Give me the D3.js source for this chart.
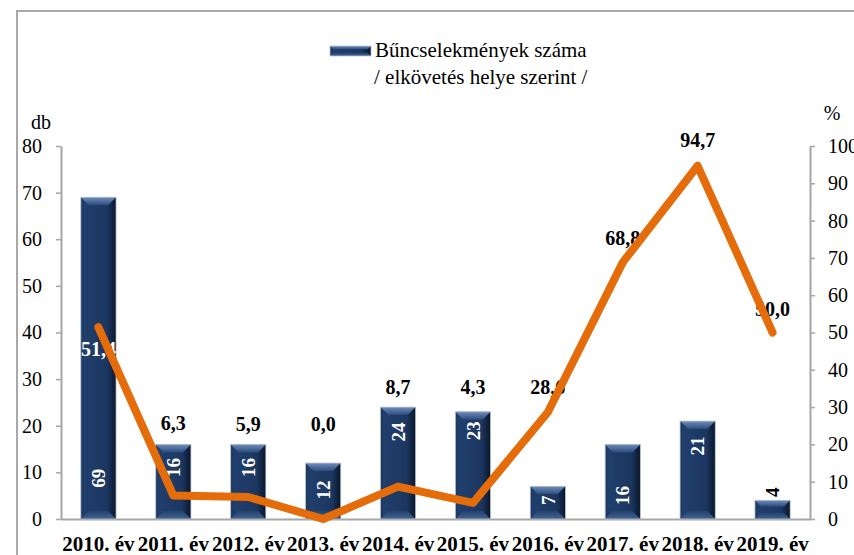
<!DOCTYPE html>
<html>
<head>
<meta charset="utf-8">
<script src="https://cdn.jsdelivr.net/npm/d3@7"></script>
<style>
  body { margin: 0; background: #fff; }
  #chart { width: 854px; height: 555px; }
  svg text { font-family: "Liberation Serif", "Times New Roman", "DejaVu Serif", serif; }
</style>
</head>
<body>
<div id="chart"></div>
<script>
//////////////  Data  //////////////
const categories = ["2010. év", "2011. év", "2012. év", "2013. év", "2014. év",
  "2015. év", "2016. év", "2017. év", "2018. év", "2019. év"];
const crimeCounts = [69, 16, 16, 12, 24, 23, 7, 16, 21, 4];          // db
const sharePct = [51.4, 6.3, 5.9, 0.0, 8.7, 4.3, 28.6, 68.8, 94.7, 50.0]; // %
const leftTicks = [0, 10, 20, 30, 40, 50, 60, 70, 80];
const rightTicks = [0, 10, 20, 30, 40, 50, 60, 70, 80, 90, 100];
const legendLines = ["Bűncselekmények száma", "/ elkövetés helye szerint /"];

// label nudges (px), the labels were moved by hand in the original
const barLabelDy = [281, 23, 23, 27, 25, 19, 14, 51, 25, -8];
const lineLabelDy = [22, -73, -73, -95, -100, -116, -25, -24, -26, -24];

//////////////  Init  //////////////
const width = 854, height = 555;
const margin = { top: 146, right: 44, bottom: 36, left: 61 };
const serif = '"Liberation Serif", "Times New Roman", "DejaVu Serif", serif';

const svg = d3.select("#chart").append("svg")
  .attr("width", width).attr("height", height)
  .attr("font-family", serif);

const fmt = (v) => d3.format(".1f")(v).replace(".", ",");

// frame
svg.append("path")
  .attr("d", `M17,${height + 5}V11H${width + 5}`)
  .attr("fill", "none").attr("stroke", "#a9a9a9").attr("stroke-width", 2);

// scales
const x = d3.scaleBand().domain(categories)
  .range([margin.left, width - margin.right]).paddingInner(0.53).paddingOuter(0.265);
const xc = d3.scaleBand().domain(categories).range([margin.left, width - margin.right]);
const yLeft = d3.scaleLinear().domain([0, 80]).range([height - margin.bottom, margin.top]);
const yRight = d3.scaleLinear().domain([0, 100]).range([height - margin.bottom, margin.top]);

// gradients
const defs = svg.append("defs");
const side = defs.append("linearGradient").attr("id", "barSide");
side.append("stop").attr("offset", "0%").attr("stop-color", "#1d3962");
side.append("stop").attr("offset", "12%").attr("stop-color", "#213f6c");
side.append("stop").attr("offset", "75%").attr("stop-color", "#1b3660");
side.append("stop").attr("offset", "100%").attr("stop-color", "#0a1629");
const topG = defs.append("linearGradient").attr("id", "barTop")
  .attr("x1", 0).attr("y1", 0).attr("x2", 0).attr("y2", 1);
topG.append("stop").attr("offset", "0%").attr("stop-color", "#6d8dbd");
topG.append("stop").attr("offset", "100%").attr("stop-color", "#2c4b7a");
const botG = defs.append("linearGradient").attr("id", "barBot")
  .attr("x1", 0).attr("y1", 0).attr("x2", 0).attr("y2", 1);
botG.append("stop").attr("offset", "0%").attr("stop-color", "#24426f");
botG.append("stop").attr("offset", "100%").attr("stop-color", "#41618f");

function bevelBar(g, bx, by, bw, bh) {
  const bev = Math.min(8, bh / 3);
  g.append("rect").attr("x", bx).attr("y", by).attr("width", bw).attr("height", bh)
    .attr("fill", "url(#barSide)");
  g.append("polygon")
    .attr("points", [[bx, by], [bx + bw, by], [bx + bw - bev, by + bev], [bx + bev, by + bev]].join(" "))
    .attr("fill", "url(#barTop)");
  g.append("polygon")
    .attr("points", [[bx, by + bh], [bx + bw, by + bh], [bx + bw - bev, by + bh - bev], [bx + bev, by + bh - bev]].join(" "))
    .attr("fill", "url(#barBot)");
  g.append("rect").attr("x", bx).attr("y", by).attr("width", bw).attr("height", bh)
    .attr("fill", "none").attr("stroke", "#b9c3d3").attr("stroke-width", 0.8);
}

//////////////  Axes  //////////////
const axisColor = "#a6a6a6";

const gLeft = svg.append("g").attr("transform", `translate(${margin.left},0)`)
  .call(d3.axisLeft(yLeft).tickValues(leftTicks).tickSize(5).tickSizeOuter(0).tickPadding(14));
const gRight = svg.append("g").attr("transform", `translate(${width - margin.right},0)`)
  .call(d3.axisRight(yRight).tickValues(rightTicks).tickSize(5).tickSizeOuter(0).tickPadding(13));
const gBottom = svg.append("g").attr("transform", `translate(0,${height - margin.bottom})`)
  .call(d3.axisBottom(xc).tickSize(0).tickSizeOuter(0));

[gLeft, gRight, gBottom].forEach((g) => {
  g.attr("font-family", serif);
  g.select(".domain").attr("stroke", axisColor).attr("stroke-width", 2);
  g.selectAll(".tick line").attr("stroke", axisColor).attr("stroke-width", 1.5);
  g.selectAll("text").attr("fill", "#000");
});
gLeft.attr("font-size", 20);
gRight.attr("font-size", 20);
gBottom.attr("font-size", 21).attr("font-weight", "bold");
gBottom.selectAll("text").attr("y", 32).attr("dy", null);

// unit labels
svg.append("text").attr("x", 41).attr("y", 129).attr("text-anchor", "middle")
  .attr("font-size", 20).text("db");
svg.append("text").attr("x", 832).attr("y", 120).attr("text-anchor", "middle")
  .attr("font-size", 20).text("%");

//////////////  Bars  //////////////
const gBars = svg.append("g");
crimeCounts.forEach((v, i) => {
  const c = categories[i];
  bevelBar(gBars, x(c), yLeft(v), x.bandwidth(), yLeft(0) - yLeft(v));
});

// bar value labels (rotated)
svg.append("g").selectAll("text")
  .data(crimeCounts)
  .join("text")
  .attr("transform", (d, i) =>
    `translate(${xc(categories[i]) + xc.bandwidth() / 2},${yLeft(d) + barLabelDy[i]}) rotate(-90)`)
  .attr("text-anchor", "middle")
  .attr("dy", "0.35em")
  .attr("fill", (d, i) => (barLabelDy[i] < 0 ? "#000" : "#fff"))
  .attr("font-size", 19).attr("font-weight", "bold")
  .text((d) => d);

//////////////  Line  //////////////
const px = (i) => xc(categories[i]) + xc.bandwidth() / 2;

svg.append("g").selectAll("text")
  .data(sharePct)
  .join("text")
  .attr("x", (d, i) => px(i))
  .attr("y", (d, i) => yRight(d) + lineLabelDy[i])
  .attr("dy", "0.35em")
  .attr("text-anchor", "middle")
  .attr("fill", (d, i) => (i === 0 ? "#fff" : "#000"))
  .attr("font-size", 20).attr("font-weight", "bold")
  .text((d) => fmt(d));

const line = d3.line()
  .x((d, i) => px(i))
  .y((d) => yRight(d));

svg.append("path")
  .datum(sharePct)
  .attr("fill", "none")
  .attr("stroke", "#e46c0a")
  .attr("stroke-width", 8)
  .attr("stroke-linejoin", "round")
  .attr("stroke-linecap", "round")
  .attr("d", line);

//////////////  Legend  //////////////
const gLeg = svg.append("g");
bevelBar(gLeg, 330, 46, 41, 10);
gLeg.selectAll("text")
  .data(legendLines)
  .join("text")
  .attr("x", (d, i) => (i === 0 ? 375 : 374))
  .attr("y", (d, i) => 57 + i * 27)
  .attr("font-size", 21)
  .text((d) => d);
</script>
</body>
</html>
